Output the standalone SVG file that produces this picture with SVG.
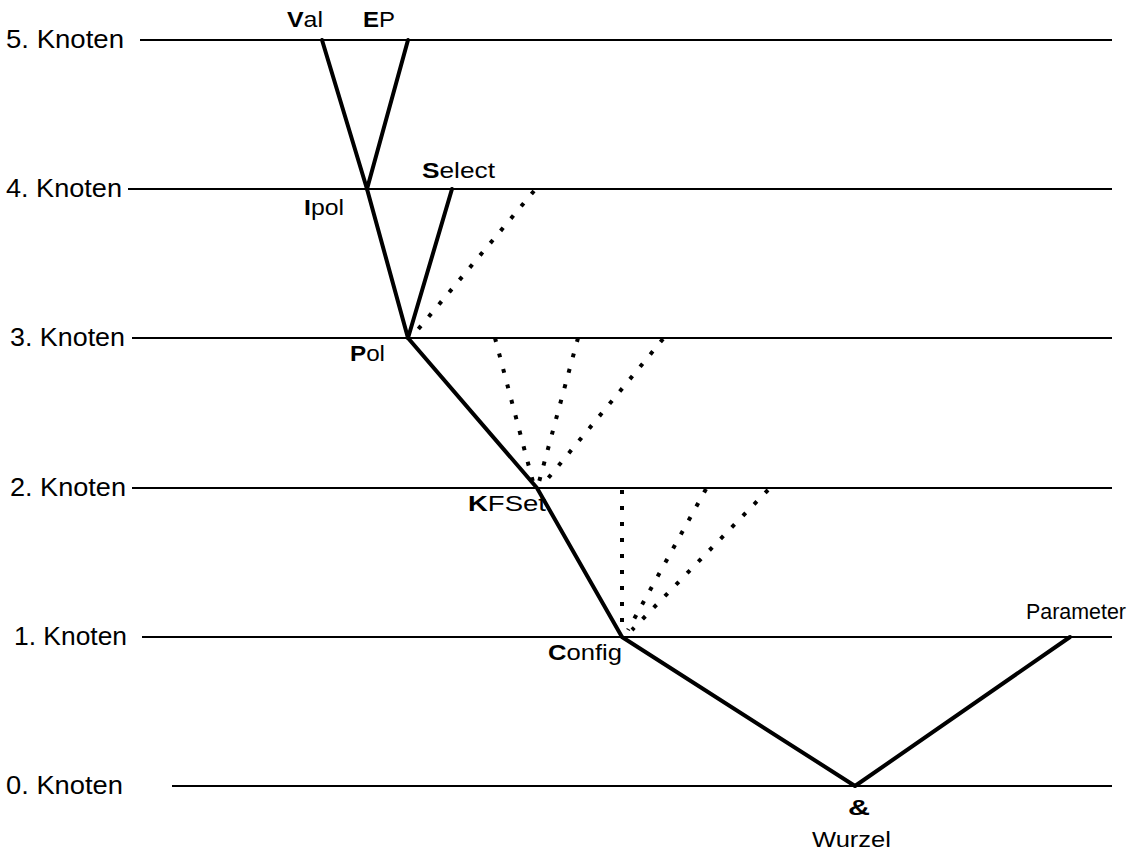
<svg xmlns="http://www.w3.org/2000/svg" width="1130" height="856" viewBox="0 0 1130 856">
<style>
.lvl{stroke:#000;stroke-width:2;fill:none}
.edge{stroke:#000;stroke-width:4;fill:none;stroke-linecap:round;stroke-linejoin:round}
.dot{stroke:#000;stroke-width:4;fill:none;stroke-dasharray:4 12}
.k{font-family:"Liberation Sans",Arial,sans-serif;font-size:25px;fill:#000}
.t{font-family:"Liberation Sans",Arial,sans-serif;font-size:22px;fill:#000}
.b{font-weight:bold}
</style>
<rect width="1130" height="856" fill="#fff"/>
<g id="levels">
<line class="lvl" x1="140" y1="40" x2="1112" y2="40"/>
<line class="lvl" x1="128" y1="189" x2="1112" y2="189"/>
<line class="lvl" x1="132" y1="338" x2="1112" y2="338"/>
<line class="lvl" x1="132" y1="488" x2="1112" y2="488"/>
<line class="lvl" x1="142" y1="637" x2="1112" y2="637"/>
<line class="lvl" x1="172" y1="786" x2="1112" y2="786"/>
<text class="k" x="6" y="48" textLength="118" lengthAdjust="spacingAndGlyphs">5. Knoten</text>
<text class="k" x="6" y="197" textLength="116" lengthAdjust="spacingAndGlyphs">4. Knoten</text>
<text class="k" x="10" y="346" textLength="115" lengthAdjust="spacingAndGlyphs">3. Knoten</text>
<text class="k" x="10" y="496" textLength="116" lengthAdjust="spacingAndGlyphs">2. Knoten</text>
<text class="k" x="14" y="645" textLength="113" lengthAdjust="spacingAndGlyphs">1. Knoten</text>
<text class="k" x="6" y="794" textLength="117" lengthAdjust="spacingAndGlyphs">0. Knoten</text>
</g>
<g id="connectors">
<polyline class="edge" points="322,40 367,189 408,40"/>
<polyline class="edge" points="367,189 408,338 452,189"/>
<polyline class="edge" points="408,338 537,488 622,637 855,786 1070,637"/>
<line class="dot" x1="534" y1="191" x2="415" y2="333"/>
<line class="dot" x1="495" y1="338" x2="533" y2="482"/>
<line class="dot" x1="578" y1="338" x2="539" y2="482"/>
<line class="dot" x1="663" y1="339" x2="545" y2="482"/>
<line class="dot" x1="622" y1="490" x2="622" y2="630"/>
<line class="dot" x1="706" y1="489" x2="628" y2="630"/>
<line class="dot" x1="768" y1="490" x2="632" y2="630"/>
</g>
<g id="node-val"><text class="t" x="287" y="27" textLength="36" lengthAdjust="spacingAndGlyphs"><tspan class="b">V</tspan>al</text></g>
<g id="node-ep"><text class="t" x="363" y="27" textLength="32" lengthAdjust="spacingAndGlyphs"><tspan class="b">E</tspan>P</text></g>
<g id="node-ipol"><text class="t" x="304" y="215" textLength="40" lengthAdjust="spacingAndGlyphs"><tspan class="b">I</tspan>pol</text></g>
<g id="node-select"><text class="t" x="422" y="178" textLength="73" lengthAdjust="spacingAndGlyphs"><tspan class="b">S</tspan>elect</text></g>
<g id="node-pol"><text class="t" x="350" y="361" textLength="35" lengthAdjust="spacingAndGlyphs"><tspan class="b">P</tspan>ol</text></g>
<g id="node-kfset"><text class="t" x="468" y="511" textLength="78" lengthAdjust="spacingAndGlyphs"><tspan class="b">K</tspan>FSet</text></g>
<g id="node-config"><text class="t" x="548" y="660" textLength="74" lengthAdjust="spacingAndGlyphs"><tspan class="b">C</tspan>onfig</text></g>
<g id="node-parameter"><text class="t" x="1026" y="619" textLength="100" lengthAdjust="spacingAndGlyphs">Parameter</text></g>
<g id="node-root"><text class="t b" x="848" y="815" textLength="22" lengthAdjust="spacingAndGlyphs">&amp;</text>
<text class="t" x="812" y="847" textLength="79" lengthAdjust="spacingAndGlyphs">Wurzel</text></g>
</svg>
